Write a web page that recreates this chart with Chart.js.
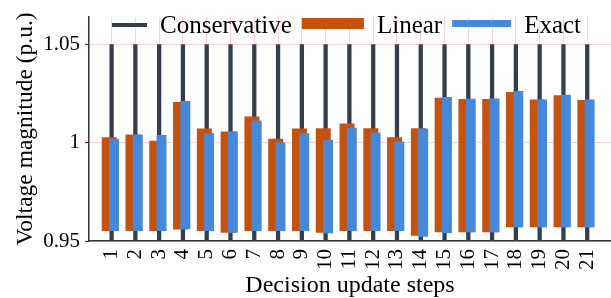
<!DOCTYPE html>
<html>
<head>
<meta charset="utf-8">
<script src="https://cdn.jsdelivr.net/npm/chart.js@4/dist/chart.umd.min.js"></script>
<style>
  html, body { margin: 0; padding: 0; background: #fff; }
  #wrap { width: 611px; height: 298px; }
</style>
</head>
<body>
<div id="wrap"><canvas id="voltChart" width="611" height="298"></canvas></div>
<script>
// decision update steps (x categories)
const steps = [1, 2, 3, 4, 5, 6, 7, 8, 9, 10, 11, 12, 13, 14, 15, 16, 17, 18, 19, 20, 21];

// conservative bounds (p.u.)
const conservativeLow  = [0.95, 0.95, 0.95, 0.95, 0.95, 0.95, 0.95, 0.95, 0.95, 0.95, 0.95, 0.95, 0.95, 0.95, 0.95, 0.95, 0.95, 0.95, 0.95, 0.95, 0.95];
const conservativeHigh = [1.05, 1.05, 1.05, 1.05, 1.05, 1.05, 1.05, 1.05, 1.05, 1.05, 1.05, 1.05, 1.05, 1.05, 1.05, 1.05, 1.05, 1.05, 1.05, 1.05, 1.05];

// linear model voltage range
const linearLow  = [0.9551, 0.9551, 0.9551, 0.9559, 0.9551, 0.9542, 0.9551, 0.9551, 0.9551, 0.9542, 0.9551, 0.9551, 0.9551, 0.9527, 0.9544, 0.9544, 0.9544, 0.9570, 0.9570, 0.9570, 0.9570];
const linearHigh = [1.0027, 1.0041, 1.0009, 1.0206, 1.0071, 1.0056, 1.0133, 1.0019, 1.0071, 1.0073, 1.0097, 1.0073, 1.0027, 1.0073, 1.0228, 1.0221, 1.0221, 1.0257, 1.0219, 1.0240, 1.0216];

// exact model voltage range
const exactLow  = [0.9551, 0.9551, 0.9551, 0.9561, 0.9551, 0.9542, 0.9551, 0.9551, 0.9551, 0.9539, 0.9551, 0.9551, 0.9551, 0.9522, 0.9541, 0.9544, 0.9544, 0.9570, 0.9570, 0.9570, 0.9570];
const exactHigh = [1.0019, 1.0041, 1.0039, 1.0211, 1.0047, 1.0056, 1.0112, 1.0000, 1.0047, 1.0015, 1.0075, 1.0051, 1.0005, 1.0071, 1.0231, 1.0223, 1.0224, 1.0262, 1.0219, 1.0243, 1.0219];

const yTicks = [0.95, 1, 1.05];
const yTickLabels = ['0.95', '1', '1.05'];
const seriesNames = ['Conservative', 'Linear', 'Exact'];

// styling
const colors = ['#343e4f', '#c5520f', '#4688da'];
const gridPink = 'rgba(255, 0, 0, 0.17)';
const axisColor = '#333333';
const serif = 'Liberation Serif';
const xMin = 0.05, xMax = 22;
const yMin = 0.95, yMax = 1.0638;
const linearShift = -0.1, exactShift = 0.1;

// legend marker sizes [width, height, y centre]
const legendMarks = [[35, 4, 25], [62, 11, 23.5], [59, 7, 23.5]];

const toBars = (lows, highs, shift) => steps.map((s, i) => ({ x: s + shift, y: [lows[i], highs[i]] }));
const stepTicks = scale => { scale.ticks = steps.map(v => ({ value: v })); };

// legend row drawn across the top of the plot, like the original
const legendRow = {
    id: 'legendRow',
    afterDraw(chart) {
        const ctx = chart.ctx;
        let x = 112;
        ctx.save();
        ctx.font = '25px "' + serif + '"';
        ctx.textBaseline = 'alphabetic';
        chart.data.datasets.forEach((ds, i) => {
            const [w, h, cy] = legendMarks[i];
            ctx.fillStyle = ds.backgroundColor;
            ctx.fillRect(x, cy - h / 2, w, h);
            x += w + 13;
            ctx.fillStyle = '#000';
            ctx.fillText(ds.label, x, 33);
            x += ctx.measureText(ds.label).width + 10;
        });
        ctx.restore();
    }
};

const ctx = document.getElementById('voltChart');
new Chart(ctx, {
    type: 'bar',
    data: {
        datasets: [
            { label: seriesNames[0], data: toBars(conservativeLow, conservativeHigh, 0), backgroundColor: colors[0], xAxisID: 'x', order: 3, barPercentage: 0.18, categoryPercentage: 1 },
            { label: seriesNames[1], data: toBars(linearLow, linearHigh, linearShift), backgroundColor: colors[1], xAxisID: 'xL', order: 2, barPercentage: 0.63, categoryPercentage: 1 },
            { label: seriesNames[2], data: toBars(exactLow, exactHigh, exactShift), backgroundColor: colors[2], xAxisID: 'xE', order: 1, barPercentage: 0.42, categoryPercentage: 1 }
        ]
    },
    options: {
        responsive: false,
        animation: false,
        devicePixelRatio: 1,
        grouped: false,
        layout: { padding: { top: 17, left: 0, right: 0, bottom: 0 } },
        plugins: { legend: { display: false }, tooltip: { enabled: false } },
        scales: {
            x: {
                type: 'linear', min: xMin, max: xMax, offset: false,
                afterBuildTicks: stepTicks,
                grid: { color: gridPink, offset: false, drawTicks: false },
                border: { color: axisColor, width: 1.5 },
                ticks: { autoSkip: false, minRotation: 90, maxRotation: 90, padding: 8, color: '#000', font: { family: serif, size: 21 }, callback: v => String(v) },
                title: { display: true, text: 'Decision update steps', color: '#000', font: { family: serif, size: 24, lineHeight: 1 }, padding: { top: 0, bottom: 0 } },
                afterFit: s => { s.height = 57; s.paddingLeft = 0; s.paddingRight = 0; }
            },
            xL: { type: 'linear', display: false, min: xMin, max: xMax, offset: false, afterBuildTicks: stepTicks },
            xE: { type: 'linear', display: false, min: xMin, max: xMax, offset: false, afterBuildTicks: stepTicks },
            y: {
                min: yMin, max: yMax,
                afterBuildTicks: s => { s.ticks = yTicks.map(v => ({ value: v })); },
                grid: { color: gridPink, tickColor: axisColor, tickLength: 4, tickWidth: 1.2 },
                border: { color: axisColor, width: 1.5 },
                ticks: { padding: 5, color: '#000', font: { family: serif, size: 21 }, callback: (v, i) => yTickLabels[i] },
                title: { display: true, text: 'Voltage magnitude (p.u.)', color: '#000', font: { family: serif, size: 23.5, lineHeight: 1 }, padding: { top: 14, bottom: 0 } },
                afterFit: s => { s.width = 89; s.paddingTop = 0; s.paddingBottom = 0; }
            }
        }
    },
    plugins: [legendRow]
});
</script>
</body>
</html>
